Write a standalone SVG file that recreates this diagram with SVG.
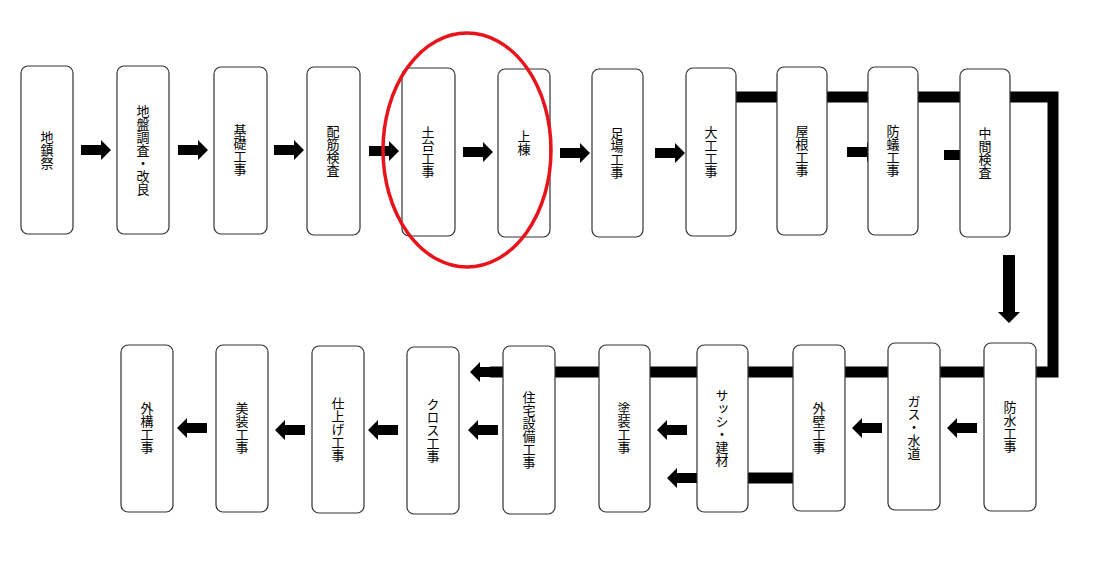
<svg xmlns="http://www.w3.org/2000/svg" width="1108" height="585" viewBox="0 0 1108 585">
<style>
.n rect{fill:#fff;stroke:#333;stroke-width:1.2}
.n text{font-family:"Noto Sans CJK JP","Liberation Sans",sans-serif;font-size:13px;writing-mode:vertical-rl;text-anchor:middle;dominant-baseline:central;fill:#000}
</style>
<defs>
<path id="ar" d="M0,-5 H20 V-10 L30,0 L20,10 V5 H0 Z" fill="#000"/>
<path id="al" d="M0,-5 H-20 V-10 L-30,0 L-20,10 V5 H0 Z" fill="#000"/>
</defs>
<rect width="1108" height="585" fill="#fff"/>
<g id="connectors">
<path d="M736,97 H1053 V372 H490" fill="none" stroke="#000" stroke-width="11"/>
<use href="#al" x="500" y="372"/>
<path d="M748,478 H793" stroke="#000" stroke-width="11"/>
<use href="#al" x="697" y="478"/>
<use href="#ar" x="81" y="150"/>
<use href="#ar" x="178" y="150"/>
<use href="#ar" x="274" y="150"/>
<use href="#ar" x="369" y="151"/>
<use href="#ar" x="463" y="152"/>
<use href="#ar" x="560" y="153"/>
<use href="#ar" x="655" y="153"/>
<use href="#ar" x="847" y="152"/>
<use href="#ar" x="944" y="155"/>
<path d="M1003,255 H1015 V312 H1020 L1009,323 L998,312 H1003 Z" fill="#000"/>
<use href="#al" x="977" y="428"/>
<use href="#al" x="882" y="428"/>
<use href="#al" x="687" y="430"/>
<use href="#al" x="498" y="430"/>
<use href="#al" x="398" y="430"/>
<use href="#al" x="305" y="430"/>
<use href="#al" x="207" y="428"/>
</g>
<g id="n1" class="n"><rect x="21" y="66" width="52" height="168" rx="7"/><text x="47" y="150">地鎮祭</text></g>
<g id="n2" class="n"><rect x="117" y="66" width="52" height="168" rx="7"/><text x="143" y="150">地盤調査・改良</text></g>
<g id="n3" class="n"><rect x="214" y="67" width="53" height="167" rx="7"/><text x="240" y="150">基礎工事</text></g>
<g id="n4" class="n"><rect x="307" y="67" width="53" height="168" rx="7"/><text x="333" y="151">配筋検査</text></g>
<g id="n5" class="n"><rect x="402" y="68" width="53" height="168" rx="7"/><text x="428" y="152">土台工事</text></g>
<g id="n6" class="n"><rect x="498" y="69" width="52" height="168" rx="7"/><text x="524" y="143">上棟</text></g>
<g id="n7" class="n"><rect x="592" y="69" width="51" height="168" rx="7"/><text x="617" y="153">足場工事</text></g>
<g id="n8" class="n"><rect x="686" y="68" width="50" height="168" rx="7"/><text x="711" y="152">大工工事</text></g>
<g id="n9" class="n"><rect x="777" y="67" width="50" height="168" rx="7"/><text x="802" y="151">屋根工事</text></g>
<g id="n10" class="n"><rect x="868" y="67" width="50" height="168" rx="7"/><text x="893" y="151">防蟻工事</text></g>
<g id="n11" class="n"><rect x="960" y="69" width="50" height="168" rx="7"/><text x="985" y="153">中間検査</text></g>
<g id="n12" class="n"><rect x="984" y="343" width="52" height="168" rx="7"/><text x="1010" y="427">防水工事</text></g>
<g id="n13" class="n"><rect x="888" y="343" width="52" height="167" rx="7"/><text x="914" y="427">ガス・水道</text></g>
<g id="n14" class="n"><rect x="793" y="345" width="52" height="166" rx="7"/><text x="819" y="428">外壁工事</text></g>
<g id="n15" class="n"><rect x="697" y="345" width="51" height="167" rx="7"/><text x="722" y="428">サッシ・建材</text></g>
<g id="n16" class="n"><rect x="599" y="345" width="51" height="167" rx="7"/><text x="624" y="428">塗装工事</text></g>
<g id="n17" class="n"><rect x="503" y="346" width="52" height="168" rx="7"/><text x="529" y="430">住宅設備工事</text></g>
<g id="n18" class="n"><rect x="407" y="347" width="52" height="167" rx="7"/><text x="433" y="430">クロス工事</text></g>
<g id="n19" class="n"><rect x="312" y="346" width="52" height="167" rx="7"/><text x="338" y="429">仕上げ工事</text></g>
<g id="n20" class="n"><rect x="216" y="345" width="52" height="167" rx="7"/><text x="242" y="428">美装工事</text></g>
<g id="n21" class="n"><rect x="121" y="345" width="52" height="167" rx="7"/><text x="147" y="428">外構工事</text></g>
<ellipse cx="467" cy="150" rx="84" ry="117" fill="none" stroke="#e8141c" stroke-width="3.5"/>
</svg>
